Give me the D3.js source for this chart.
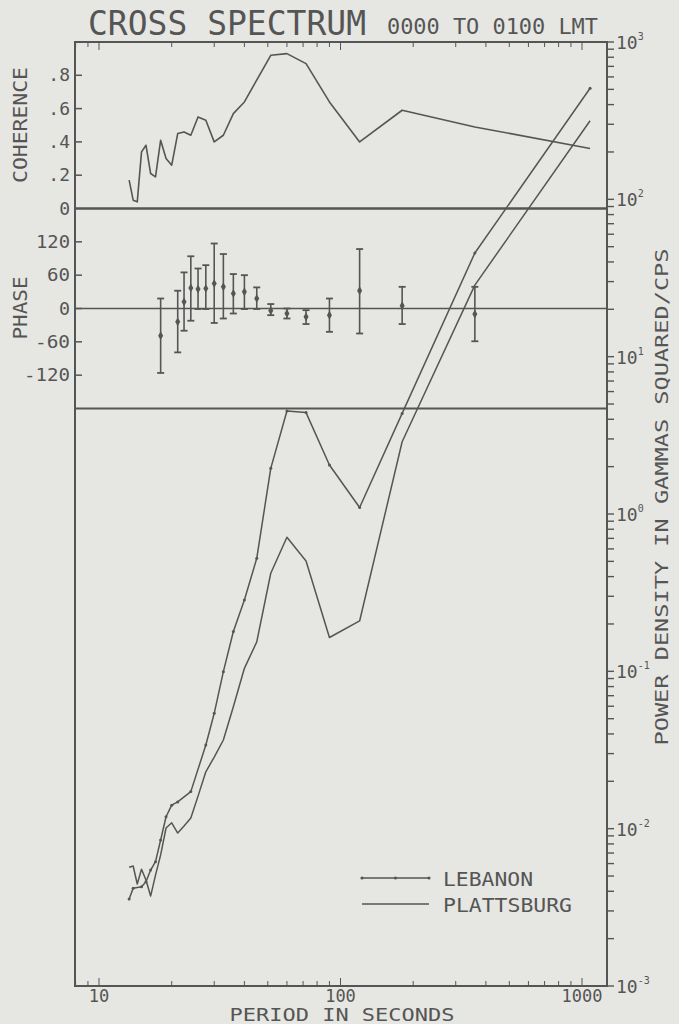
<!DOCTYPE html>
<html>
<head>
<meta charset="utf-8">
<script src="https://cdn.jsdelivr.net/npm/d3@7"></script>
<style>
  html, body { margin: 0; padding: 0; background: #e6e6e2; }
  svg { display: block; }
  text { font-family: "DejaVu Sans Mono", monospace; fill: #555; }
</style>
</head>
<body>
<svg id="chart" width="679" height="1024"></svg>
<script>
// Coherence between the two stations, by period (s)
const cohPeriod = [13.33, 13.85, 14.4, 15, 15.65, 16.36, 17.14, 18, 18.95, 20, 21.18, 22.5, 24, 25.71, 27.69, 30, 32.73, 36, 40, 51.43, 60, 72, 90, 120, 180, 360, 1080];
const cohValue  = [0.17, 0.05, 0.04, 0.34, 0.38, 0.21, 0.19, 0.41, 0.30, 0.26, 0.45, 0.46, 0.44, 0.55, 0.53, 0.40, 0.44, 0.57, 0.64, 0.92, 0.93, 0.87, 0.64, 0.40, 0.59, 0.49, 0.36];

// Phase (degrees) with confidence limits
const phasePeriod = [18, 21.18, 22.5, 24, 25.71, 27.69, 30, 32.73, 36, 40, 45, 51.43, 60, 72, 90, 120, 180, 360];
const phaseValue  = [-49, -24, 12, 37, 35, 36, 45, 39, 27, 30, 18, -4, -9, -15, -12, 32, 5, -10];
const phaseHigh   = [18, 32, 65, 94, 72, 78, 117, 98, 62, 60, 38, 8, 0, -3, 18, 107, 39, 39];
const phaseLow    = [-116, -79, -40, -22, -1, -1, -26, -18, -9, -1, -1, -12, -18, -28, -42, -45, -28, -59];

// Power density, gammas squared / cps
const lebPeriod = [13.33, 13.85, 15, 15.65, 16.36, 17.14, 18, 18.95, 20, 21.18, 24, 27.69, 30, 32.73, 36, 40, 45, 51.43, 60, 72, 90, 120, 180, 360, 1080];
const lebPower  = [0.00357, 0.00418, 0.00428, 0.0046, 0.00546, 0.00617, 0.00847, 0.0119, 0.0141, 0.0148, 0.0172, 0.034, 0.0541, 0.0995, 0.179, 0.284, 0.523, 1.95, 4.52, 4.41, 2.05, 1.10, 4.36, 45.6, 508];
const plaPeriod = [13.33, 13.85, 14.4, 15, 15.65, 16.36, 17.14, 18, 18.95, 20, 21.18, 22.5, 24, 25.71, 27.69, 30, 32.73, 36, 40, 45, 51.43, 60, 72, 90, 120, 180, 360, 1080];
const plaPower  = [0.00568, 0.00579, 0.00445, 0.00552, 0.00472, 0.00373, 0.00507, 0.00681, 0.0101, 0.0109, 0.00938, 0.0104, 0.0117, 0.0161, 0.023, 0.0285, 0.0366, 0.0596, 0.1045, 0.154, 0.42, 0.711, 0.502, 0.164, 0.209, 2.88, 28.5, 316];

// Axis tick labels
const cohTicks = [0, 0.2, 0.4, 0.6, 0.8];
const cohTickLabels = ["0", ".2", ".4", ".6", ".8"];
const phaseTicks = [-120, -60, 0, 60, 120];
const periodTicks = [10, 100, 1000];
const powerExponents = [3, 2, 1, 0, -1, -2, -3];
const seriesNames = ["LEBANON", "PLATTSBURG"];

const INK = "#555";
const svg = d3.select("#chart");

const frameL = 75, frameR = 607, frameT = 42, frameB = 986;
const cohBottom = 208.5, phaseBottom = 408.5;

const x = d3.scaleLog().domain([10, 1000]).range([99, 582]);
const yCoh = d3.scaleLinear().domain([0, 1]).range([cohBottom, frameT]);
const yPh = d3.scaleLinear().domain([-180, 180]).range([phaseBottom, cohBottom]);
const yPow = d3.scaleLog().domain([1e-3, 1e3]).range([frameB, frameT]);

// Title
svg.append("text").attr("x", 88).attr("y", 35).attr("font-size", 33)
  .attr("textLength", 278).attr("lengthAdjust", "spacingAndGlyphs").text("CROSS SPECTRUM");
svg.append("text").attr("x", 387).attr("y", 34).attr("font-size", 21)
  .attr("textLength", 211).attr("lengthAdjust", "spacingAndGlyphs").text("0000 TO 0100 LMT");

// Frame and panel separators
const g = svg.append("g").attr("stroke", INK).attr("fill", "none");
g.append("rect").attr("x", frameL).attr("y", frameT).attr("width", frameR - frameL).attr("height", frameB - frameT).attr("stroke-width", 2);
g.append("line").attr("x1", frameL).attr("x2", frameR).attr("y1", cohBottom).attr("y2", cohBottom).attr("stroke-width", 2.6);
g.append("line").attr("x1", frameL).attr("x2", frameR).attr("y1", phaseBottom).attr("y2", phaseBottom).attr("stroke-width", 2.2);
g.append("line").attr("x1", frameL).attr("x2", frameR).attr("y1", yPh(0)).attr("y2", yPh(0)).attr("stroke-width", 1.6);

// Left ticks: coherence and phase
cohTicks.forEach((t, i) => {
  if (t > 0) g.append("line").attr("x1", frameL).attr("x2", frameL + 7).attr("y1", yCoh(t)).attr("y2", yCoh(t)).attr("stroke-width", 1.5);
  svg.append("text").attr("x", 70).attr("y", yCoh(t) + 6).attr("font-size", 18).attr("text-anchor", "end").text(cohTickLabels[i]);
});
const phaseLabelWidth = { "-120": 46, "-60": 35, "0": 11, "60": 23, "120": 34 };
phaseTicks.forEach(t => {
  g.append("line").attr("x1", frameL).attr("x2", frameL + 7).attr("y1", yPh(t)).attr("y2", yPh(t)).attr("stroke-width", 1.5);
  svg.append("text").attr("x", 70).attr("y", yPh(t) + 6).attr("font-size", 18).attr("text-anchor", "end")
    .attr("textLength", phaseLabelWidth[String(t)]).attr("lengthAdjust", "spacingAndGlyphs").text(String(t));
});

// Axis titles
svg.append("text").attr("transform", "translate(27,125) rotate(-90)").attr("font-size", 19)
  .attr("text-anchor", "middle").attr("textLength", 116).attr("lengthAdjust", "spacingAndGlyphs").text("COHERENCE");
svg.append("text").attr("transform", "translate(27,308) rotate(-90)").attr("font-size", 19)
  .attr("text-anchor", "middle").attr("textLength", 63).attr("lengthAdjust", "spacingAndGlyphs").text("PHASE");
svg.append("text").attr("transform", "translate(668,497) rotate(-90)").attr("font-size", 17)
  .attr("text-anchor", "middle").attr("textLength", 497).attr("lengthAdjust", "spacingAndGlyphs").text("POWER DENSITY IN GAMMAS SQUARED/CPS");

// Right log axis for power density
const powTickVals = [];
for (let e = -3; e <= 3; e++) {
  for (let m = 1; m <= 9; m++) {
    const v = m * Math.pow(10, e);
    if (v <= 1000) powTickVals.push(v);
  }
}
powTickVals.forEach(v => {
  g.append("line").attr("x1", frameR).attr("x2", frameR + 7).attr("y1", yPow(v)).attr("y2", yPow(v)).attr("stroke-width", 1.4);
});
powerExponents.forEach(e => {
  const t = svg.append("text").attr("x", 616).attr("y", yPow(Math.pow(10, e)) + 7).attr("font-size", 18);
  t.append("tspan").text("10");
  t.append("tspan").attr("font-size", 10).attr("dy", -9).text(String(e));
});

// Bottom and top log ticks for period
const perTickVals = [];
for (let e = 0; e <= 3; e++) {
  for (let m = 1; m <= 9; m++) {
    const v = m * Math.pow(10, e);
    if (v >= x.invert(frameL) && v <= x.invert(frameR)) perTickVals.push(v);
  }
}
perTickVals.forEach(v => {
  const len = periodTicks.includes(v) ? 8 : 5;
  g.append("line").attr("x1", x(v)).attr("x2", x(v)).attr("y1", frameB).attr("y2", frameB - len).attr("stroke-width", 1);
  g.append("line").attr("x1", x(v)).attr("x2", x(v)).attr("y1", frameT).attr("y2", frameT + len).attr("stroke-width", 1);
});
periodTicks.forEach(v => {
  svg.append("text").attr("x", x(v)).attr("y", 1002).attr("font-size", 17).attr("text-anchor", "middle").text(String(v));
});
svg.append("text").attr("x", 342).attr("y", 1021).attr("font-size", 17).attr("text-anchor", "middle")
  .attr("textLength", 225).attr("lengthAdjust", "spacingAndGlyphs").text("PERIOD IN SECONDS");

// Coherence curve
const cohLine = d3.line().x(d => x(d[0])).y(d => yCoh(d[1]));
svg.append("path").datum(d3.zip(cohPeriod, cohValue)).attr("d", cohLine)
  .attr("fill", "none").attr("stroke", INK).attr("stroke-width", 1.6).attr("stroke-linejoin", "round");

// Phase estimates with error bars
const ph = svg.append("g").attr("stroke", INK).attr("fill", INK);
phasePeriod.forEach((p, i) => {
  const px = x(p);
  ph.append("line").attr("x1", px).attr("x2", px).attr("y1", yPh(phaseHigh[i])).attr("y2", yPh(phaseLow[i])).attr("stroke-width", 1.6);
  [phaseHigh[i], phaseLow[i]].forEach(v => {
    ph.append("line").attr("x1", px - 3.5).attr("x2", px + 3.5).attr("y1", yPh(v)).attr("y2", yPh(v)).attr("stroke-width", 1.8);
  });
  ph.append("path").attr("d", d3.symbol(d3.symbolDiamond, 22)()).attr("transform", `translate(${px},${yPh(phaseValue[i])})`).attr("stroke", "none");
});

// Power density curves
const powLine = d3.line().x(d => x(d[0])).y(d => yPow(d[1]));
const lebData = d3.zip(lebPeriod, lebPower);
const plaData = d3.zip(plaPeriod, plaPower);
svg.append("path").datum(lebData).attr("d", powLine)
  .attr("fill", "none").attr("stroke", INK).attr("stroke-width", 1.5).attr("stroke-linejoin", "round");
svg.append("g").selectAll("circle").data(lebData).join("circle")
  .attr("cx", d => x(d[0])).attr("cy", d => yPow(d[1])).attr("r", 1.5).attr("fill", INK);
svg.append("path").datum(plaData).attr("d", powLine)
  .attr("fill", "none").attr("stroke", INK).attr("stroke-width", 1.5).attr("stroke-linejoin", "round");

// Legend
const lg = svg.append("g");
lg.append("line").attr("x1", 362).attr("x2", 429).attr("y1", 878).attr("y2", 878).attr("stroke", INK).attr("stroke-width", 1.5);
[362, 395.5, 429].forEach(cx => lg.append("circle").attr("cx", cx).attr("cy", 878).attr("r", 1.6).attr("fill", INK));
lg.append("line").attr("x1", 362).attr("x2", 429).attr("y1", 904).attr("y2", 904).attr("stroke", INK).attr("stroke-width", 1.5);
lg.append("text").attr("x", 443).attr("y", 886).attr("font-size", 20)
  .attr("textLength", 90).attr("lengthAdjust", "spacingAndGlyphs").text(seriesNames[0]);
lg.append("text").attr("x", 443).attr("y", 912).attr("font-size", 20)
  .attr("textLength", 129).attr("lengthAdjust", "spacingAndGlyphs").text(seriesNames[1]);
</script>
</body>
</html>
